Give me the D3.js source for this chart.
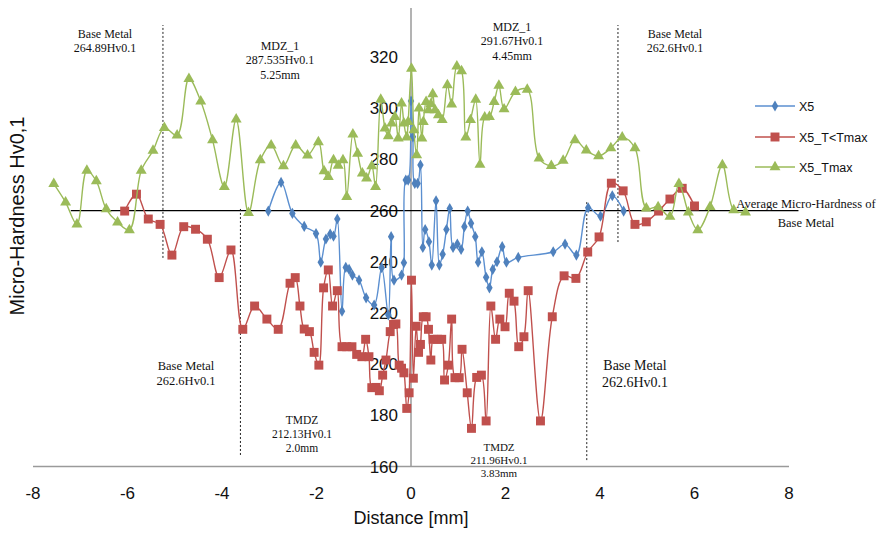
<!DOCTYPE html>
<html><head><meta charset="utf-8">
<script src="https://cdn.jsdelivr.net/npm/d3@7"></script>
<style>body{margin:0;background:#fff}svg{display:block}</style>
</head><body><svg id="c" width="880" height="533"></svg>
<script>
// ---- data ----
const xTicks = [-8,-6,-4,-2,0,2,4,6,8];
const yTicks = [160,180,200,220,240,260,280,300,320];
const seriesNames = ["X5","X5_T<Tmax","X5_Tmax"];
const x5 = [[-3.02,259.8],[-2.75,271],[-2.51,258.9],[-2.26,253.8],[-2.01,251],[-1.91,239.8],[-1.80,248.9],[-1.71,250.8],[-1.64,250.0],[-1.56,256.7],[-1.46,220.7],[-1.38,237.8],[-1.31,237.0],[-1.24,234.8],[-1.10,232.8],[-0.95,225.9],[-0.78,223.1],[-0.62,237.7],[-0.48,219.2],[-0.42,249.8],[-0.36,232.8],[-0.20,234.8],[-0.15,239.6],[-0.11,271.9],[-0.06,271.9],[0.00,302.8],[0.04,288.8],[0.08,270.6],[0.14,270.6],[0.20,277.8],[0.25,245.6],[0.30,252.6],[0.38,247.8],[0.44,238.7],[0.53,263.8],[0.60,238.7],[0.67,242.9],[0.75,252.6],[0.82,260.8],[0.89,245.6],[0.98,246.9],[1.06,244.8],[1.13,253.7],[1.20,259.8],[1.27,255.0],[1.36,249.8],[1.42,239.8],[1.50,243.9],[1.59,233.9],[1.66,229.8],[1.73,237.0],[1.82,240.0],[1.93,245.9],[2.02,239.8],[2.27,241.7],[3.01,243.9],[3.26,246.9],[3.50,242.6],[3.75,261.1],[4.01,257.8],[4.26,265.8],[4.50,259.8]];
const x5TltTmax = [[-6.06,259.8],[-5.81,266.4],[-5.56,256.7],[-5.31,254.6],[-5.06,242.6],[-4.81,253.7],[-4.56,252.7],[-4.31,248.8],[-4.06,233.8],[-3.81,244.6],[-3.56,213.6],[-3.31,222.7],[-3.05,217.6],[-2.81,213.6],[-2.56,231.6],[-2.45,233.8],[-2.35,222.7],[-2.26,213.7],[-2.15,212.7],[-2.05,204.6],[-1.95,199.6],[-1.85,229.8],[-1.75,236.8],[-1.66,222.7],[-1.56,228.7],[-1.46,206.8],[-1.36,206.8],[-1.25,206.8],[-1.15,203.8],[-1.04,202.9],[-0.96,209.7],[-0.89,202.9],[-0.83,190.8],[-0.74,190.9],[-0.67,189.6],[-0.60,195.7],[-0.53,201.6],[-0.44,212.7],[-0.37,215.5],[-0.32,215.7],[-0.25,199.6],[-0.20,198.4],[-0.15,196.6],[-0.09,182.7],[-0.04,188.8],[0.01,232.8],[0.05,194.5],[0.11,214.8],[0.16,204.6],[0.20,207.7],[0.26,218.5],[0.32,218.5],[0.37,213.6],[0.42,201.6],[0.47,209.7],[0.56,209.7],[0.65,209.7],[0.71,193.8],[0.79,199.6],[0.86,217.6],[0.93,194.7],[1.02,194.7],[1.08,205.8],[1.19,188.8],[1.28,174.9],[1.39,194.8],[1.49,195.7],[1.59,177.8],[1.69,222.7],[1.79,209.7],[1.88,217.6],[1.99,214.6],[2.08,227.7],[2.18,224.6],[2.28,206.8],[2.39,210.7],[2.48,228.7],[2.74,177.8],[2.99,218.5],[3.24,234.5],[3.49,233.5],[3.74,243.8],[3.98,249.7],[4.24,270.7],[4.49,267.7],[4.74,254.6],[4.98,255.6],[5.24,259.8],[5.48,264.5],[5.74,268.7],[6.00,261.8]];
const x5Tmax = [[-7.56,270.4],[-7.31,263.2],[-7.07,254.6],[-6.86,275.6],[-6.66,271.5],[-6.45,260.6],[-6.21,255.4],[-5.96,252.4],[-5.71,275.6],[-5.46,283.4],[-5.22,292.3],[-4.95,289.4],[-4.70,311.5],[-4.45,302.7],[-4.20,287.5],[-3.95,269.3],[-3.70,295.6],[-3.44,259.1],[-3.19,279.7],[-2.96,285.5],[-2.70,277.4],[-2.44,285.5],[-2.19,281.6],[-1.96,286.8],[-1.84,275.4],[-1.75,273.2],[-1.64,279.7],[-1.54,277.6],[-1.44,279.7],[-1.36,265.4],[-1.23,289.8],[-1.13,282.3],[-1.03,274.5],[-0.94,272.6],[-0.83,277.4],[-0.75,269.3],[-0.64,303.4],[-0.55,292.1],[-0.48,289.1],[-0.41,294.1],[-0.34,296.6],[-0.27,288.2],[-0.20,301.9],[-0.15,294.1],[-0.09,288.6],[-0.06,294.7],[0.01,315.5],[0.06,291.4],[0.12,281.7],[0.17,299.9],[0.23,288.2],[0.26,294.7],[0.32,302.5],[0.37,299.3],[0.42,301.6],[0.46,305.5],[0.51,299.3],[0.58,297.3],[0.66,295.4],[0.77,309.0],[0.86,301.5],[0.97,316.4],[1.07,314.5],[1.16,288.6],[1.26,295.4],[1.37,303.4],[1.46,278.0],[1.56,296.4],[1.66,296.6],[1.76,302.5],[1.86,308.8],[1.97,299.6],[2.21,306.4],[2.46,307.3],[2.71,280.4],[2.97,277.5],[3.22,279.5],[3.47,287.5],[3.71,283.5],[3.97,281.3],[4.23,284.4],[4.47,288.6],[4.74,284.4],[4.98,260.9],[5.23,261.4],[5.48,257.6],[5.67,270.4],[5.87,259.3],[6.07,252.4],[6.33,261.5],[6.59,277.8],[6.83,260.2],[7.08,259.3]];
const avgLine = {from:-7.2, to:8.2, value:260};
const zoneLines = [{x:-5.25,y0:241.5,y1:332.5},{x:-3.61,y0:164.5,y1:261},{x:3.72,y0:162.5,y1:264},{x:4.38,y0:247.7,y1:332.5}];
const notes = [
  {lines:["Base Metal","264.89Hv0.1"], px:105, py:38, fs:12},
  {lines:["MDZ_1","287.535Hv0.1","5.25mm"], px:280, py:50, fs:12},
  {lines:["MDZ_1","291.67Hv0.1","4.45mm"], px:512, py:31, fs:12},
  {lines:["Base Metal","262.6Hv0.1"], px:675, py:38, fs:12},
  {lines:["Base Metal","262.6Hv0.1"], px:186, py:370, fs:12.5},
  {lines:["Base Metal","262.6Hv0.1"], px:635, py:370, fs:14},
  {lines:["TMDZ","212.13Hv0.1","2.0mm"], px:302, py:424, fs:11.5},
  {lines:["TMDZ","211.96Hv0.1","3.83mm"], px:499, py:451, fs:11},
  {lines:["Average Micro-Hardness of","Base Metal"], px:806, py:208, fs:12.5}
];

// ---- drawing ----
const svg = d3.select("#c");
svg.append("rect").attr("width",880).attr("height",533).attr("fill","#fff");
const x = d3.scaleLinear().domain([-8,8]).range([33,789]);
const y = d3.scaleLinear().domain([160,320]).range([466.5,57]);

// axes lines
svg.append("line").attr("x1",x(-8)).attr("x2",x(8)).attr("y1",y(160)).attr("y2",y(160)).attr("stroke","#9a9a9a").attr("stroke-width",1.5);
svg.append("line").attr("x1",x(0)).attr("x2",x(0)).attr("y1",8).attr("y2",y(160)).attr("stroke","#9a9a9a").attr("stroke-width",1.5);

// tick labels
const font = "'Liberation Sans', Arial, sans-serif";
svg.append("g").selectAll("text").data(yTicks).join("text")
  .attr("x",x(0)-13).attr("y",d=>y(d)).attr("dy","0.36em").attr("text-anchor","end")
  .attr("font-family",font).attr("font-size",17).attr("fill","#111").text(d=>d);
svg.append("g").selectAll("text").data(xTicks).join("text")
  .attr("x",d=>x(d)).attr("y",499).attr("text-anchor","middle")
  .attr("font-family",font).attr("font-size",17).attr("fill","#111").text(d=>d);
svg.append("text").attr("x",x(0)).attr("y",524).attr("text-anchor","middle")
  .attr("font-family",font).attr("font-size",18).attr("fill","#111").text("Distance [mm]");
svg.append("text").attr("transform","translate(24,216) rotate(-90)").attr("text-anchor","middle")
  .attr("font-family",font).attr("font-size",20).attr("fill","#111").text("Micro-Hardness Hv0,1");

// average line
svg.append("line").attr("x1",x(avgLine.from)).attr("x2",x(avgLine.to)).attr("y1",y(avgLine.value)).attr("y2",y(avgLine.value))
  .attr("stroke","#000").attr("stroke-width",1.3);

// zone dotted lines
svg.append("g").selectAll("line").data(zoneLines).join("line")
  .attr("x1",d=>x(d.x)).attr("x2",d=>x(d.x)).attr("y1",d=>y(d.y0)).attr("y2",d=>y(d.y1))
  .attr("stroke","#222").attr("stroke-width",1).attr("stroke-dasharray","2,2");

// series
const cfg = [
  {data:x5, color:"#4F81BD", line:"#5b8fd0", sym:d3.symbolDiamond, size:36},
  {data:x5TltTmax, color:"#C0504D", line:"#C0504D", sym:d3.symbolSquare, size:80},
  {data:x5Tmax, color:"#9BBB59", line:"#9BBB59", sym:d3.symbolTriangle, size:52}
];
const lineGen = d3.line().x(d=>x(d[0])).y(d=>y(d[1])).curve(d3.curveCatmullRom.alpha(0.5));
cfg.forEach(c=>{
  const g = svg.append("g");
  g.append("path").attr("d",lineGen(c.data)).attr("fill","none").attr("stroke",c.line).attr("stroke-width",1.4);
  g.selectAll("path.m").data(c.data).join("path").attr("class","m")
    .attr("transform",d=>`translate(${x(d[0])},${y(d[1])})`)
    .attr("d",d3.symbol(c.sym,c.size)).attr("fill",c.color);
});

// annotations
notes.forEach(n=>{
  const t = svg.append("text").attr("text-anchor","middle").attr("font-family","'Liberation Serif','Times New Roman',serif")
    .attr("font-size",n.fs).attr("fill","#111");
  const gap = n.px>780 ? n.fs*1.2+4 : n.fs*1.2;
  n.lines.forEach((s,i)=>{
    t.append("tspan").attr("x",n.px).attr("y",n.py+i*gap).text(s);
  });
});

// legend
const leg = svg.append("g");
cfg.forEach((c,i)=>{
  const ly = [106,137,167][i];
  leg.append("line").attr("x1",755).attr("x2",795).attr("y1",ly).attr("y2",ly).attr("stroke",c.line).attr("stroke-width",1.6);
  leg.append("path").attr("transform",`translate(775,${ly})`).attr("d",d3.symbol(c.sym,c.size)).attr("fill",c.color);
  leg.append("text").attr("x",799).attr("y",ly).attr("dy","0.36em").attr("font-family",font).attr("font-size",12.5).attr("fill","#111").text(seriesNames[i]);
});
</script></body></html>
